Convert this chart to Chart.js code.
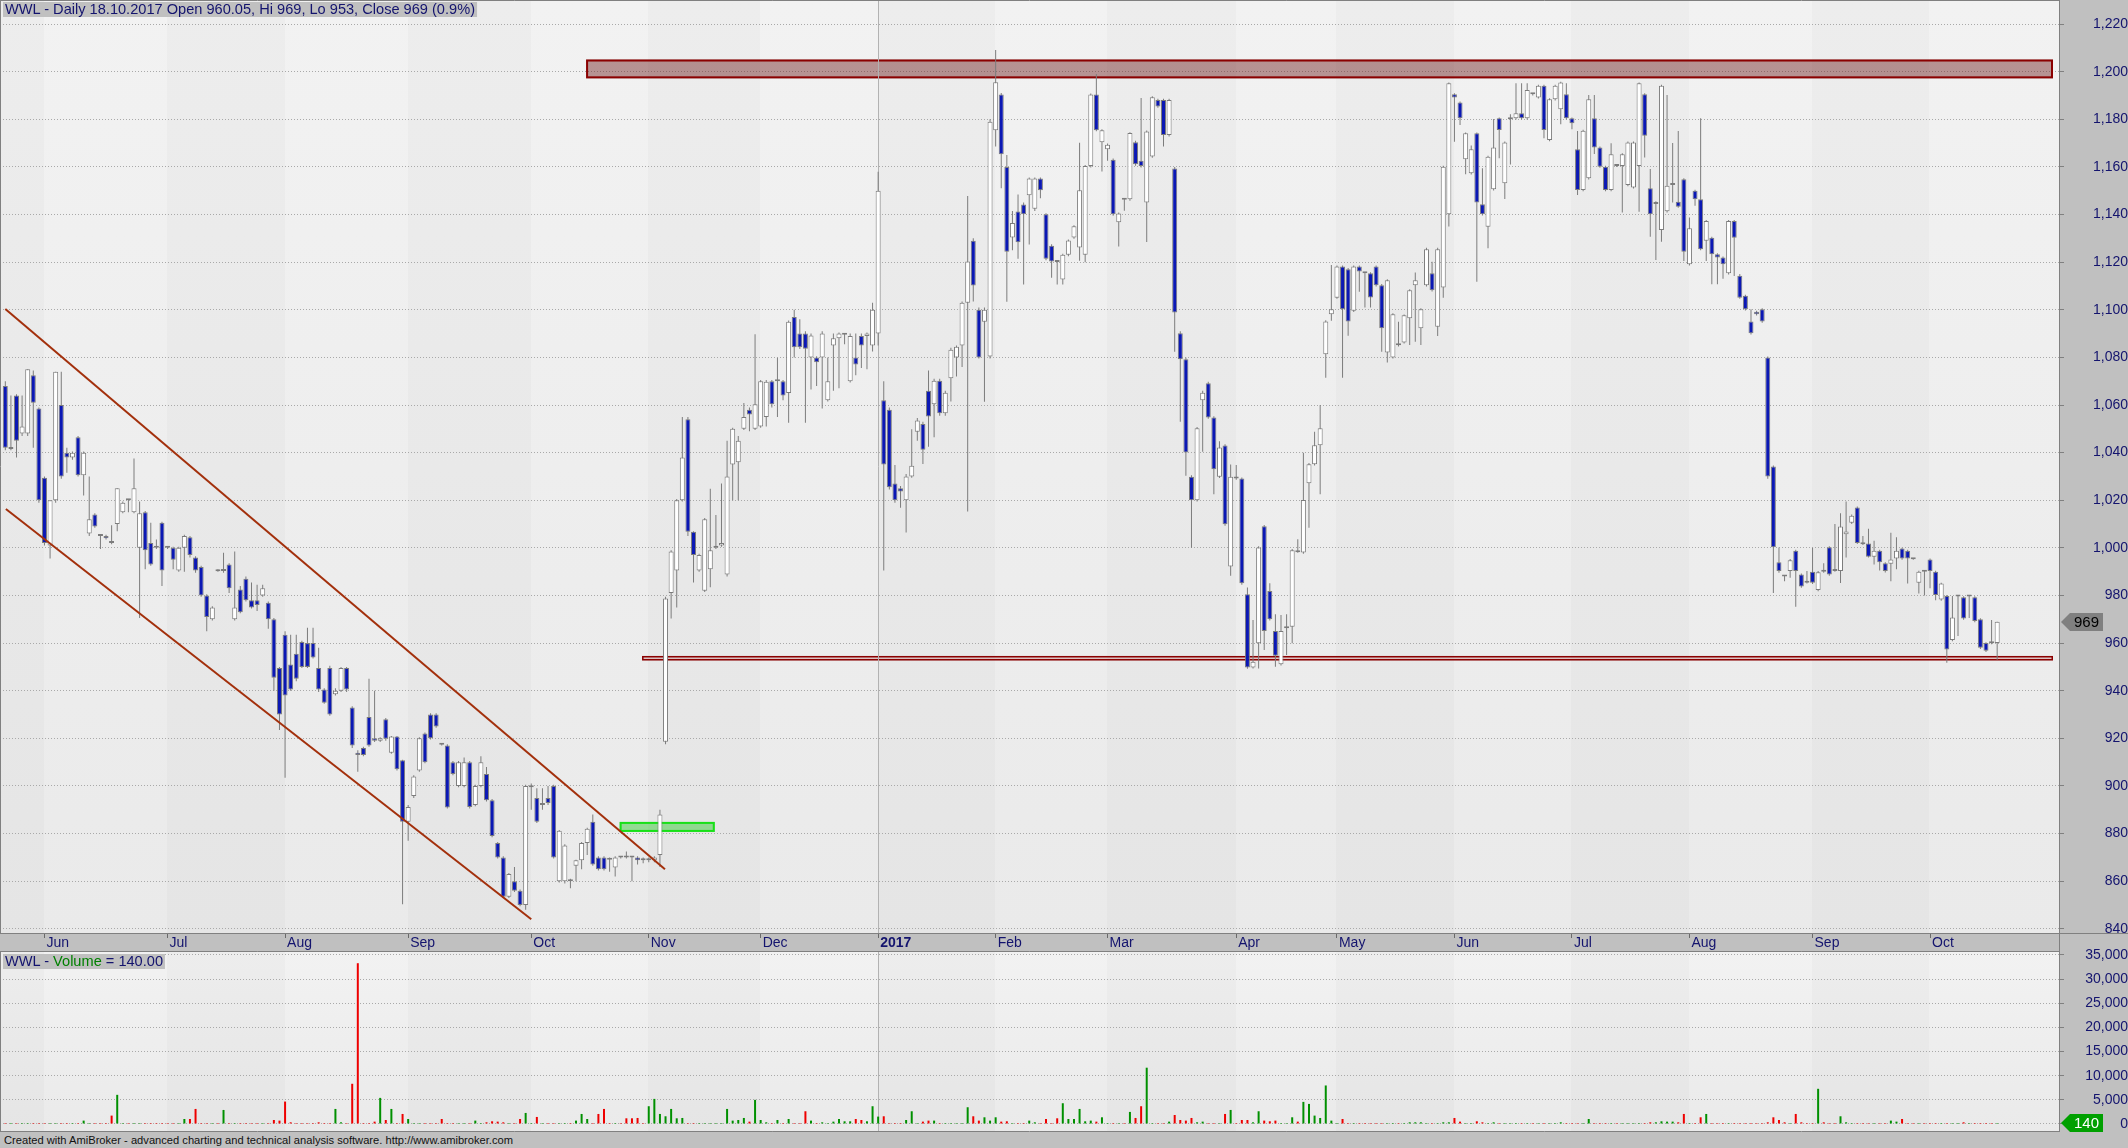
<!DOCTYPE html>
<html><head><meta charset="utf-8"><title>WWL Daily</title>
<script src="https://cdn.jsdelivr.net/npm/chart.js@4.4.1/dist/chart.umd.min.js"></script>
<style>
html,body{margin:0;padding:0;background:#c0c0c0;}
#wrap{position:relative;width:2128px;height:1148px;overflow:hidden;background:#c0c0c0;}
canvas{position:absolute;left:0;display:block;}
#priceCv{top:0;}
#volCv{top:938px;}
.txt{position:absolute;white-space:nowrap;font-family:'Liberation Sans',Arial,sans-serif;color:#14146e;transform-origin:0 0;}
#title{left:3px;top:2px;font-size:14.5px;line-height:15px;background:#c0c0c0;padding:0 2px;}
#vlegend{left:3px;top:954px;font-size:14.5px;line-height:15px;background:#c0c0c0;padding:0 2px;}
#footer{left:4px;top:1134px;font-size:11px;line-height:13px;color:#111;}
</style></head>
<body><div id="wrap">
<canvas id="priceCv" width="2128" height="952"></canvas>
<canvas id="volCv" width="2128" height="194"></canvas>
<div id="title" class="txt" data-w="474">WWL - Daily 18.10.2017 Open 960.05, Hi 969, Lo 953, Close 969 (0.9%)</div>
<div id="vlegend" class="txt" data-w="162">WWL - <span style="color:#008000">Volume</span> = 140.00</div>
<div id="footer" class="txt" data-w="509">Created with AmiBroker - advanced charting and technical analysis software. http://www.amibroker.com</div>
</div>
<script>
// ---------- DATA ----------
const open = [
1068,1041.5,1064,1048,1048,1072.5,1058.5,1029.5,1001,1020,
1060,1040,1038,1046.5,1030.5,1006,1014,1005.2,1005,1002.2,
1010,1015,1020.2,1015,1000,1015,1002,1000.2,1010.5,1000.2,
1000,990.5,1000,1004.5,996,992,980,970,990.5,990.3,
993,970,982.5,987,978,978,980,977,970,949.5,
963.5,951,955.5,960.5,960,960,949.5,940.5,949.5,938.5,
940,949.5,933,914,916,929,920,919,928,914,
920.8,910.8,885,895.8,906.5,922,930,930,917.8,917,
910,900,900,910,892,900,905,894,876,870,
853.5,860,856,850,899.5,895,892,895,900,860,
860,860.8,866.5,868.8,876,885,870,870,869.5,865.8,
870.2,870.2,870.2,870,869,868.8,868.8,871,918.6,981,
990.5,1020,1054,1006.8,990.5,982,991,1000,1001,988.8,
1035,1036,1050,1058,1050,1051,1055,1070,1070,1070,
1065,1097,1090,1090,1080,1080,1080,1062,1085,1088,
1089.5,1070,1080,1089,1089,1085,1090,1062,1058,1027,
1025,1020,1030,1048.8,1052,1066,1060.3,1070.2,1056.5,1071.2,
1080,1085,1103,1129,1100,1095,1080.4,1175.4,1190.4,1160,
1130.4,1141.3,1144.2,1148.1,1142.4,1155.1,1140.1,1126.9,1120.6,1112.7,
1123.1,1130.4,1126.2,1123.1,1160.4,1190.4,1170.4,1167.4,1163,1136.8,
1146.4,1146.4,1170.4,1162.6,1145,1164.4,1188.1,1188.1,1173.4,1159.3,
1090.1,1079.2,1029.9,1020,1062,1069.1,1054.8,1029.9,1043,992.2,
1029.9,1029.1,980.5,949.8,959.9,1009.1,981.9,965.1,951.1,966.2,
966.9,998.4,998.1,1027.1,1035.1,1043.1,1081.3,1098.1,1105.1,1118.2,
1117,1099.6,1118.2,1115.5,1115.3,1118.2,1110.3,1082.1,1080,1085.3,
1086.3,1096.4,1110.3,1092.2,1110.3,1115.3,1092.9,1109.4,1140.1,1190.5,
1187.1,1163.2,1157.3,1174.1,1144.3,1134.9,1150.6,1180.4,1153.1,1180,
1180.4,1182.5,1180.4,1190.7,1189.2,1194.1,1171.3,1188.4,1184.2,1190.5,
1180.4,1167.4,1150.3,1155.2,1180.4,1168.2,1160.1,1150.3,1160.6,1160.4,
1152.4,1151.4,1160.4,1190.5,1151,1144.4,1133.5,1141.4,1152.4,1145.4,
1154.8,1119.1,1150,1146.4,1129,1130.3,1123.3,1122,1115.3,1137.3,
1114.3,1105.9,1095.1,1099.2,1100.2,1080,1034.2,994,988.2,990.3,
998.8,988.8,985.5,990,982.3,990.2,1000.3,990.5,990.3,1005.7,
1010.5,1017,1001.7,1001.8,996.3,998.8,993.5,993.3,995.5,999.7,
998.8,995.4,985.3,990.2,995.1,990,978.3,979.8,961.3,979.6,
979.3,979.6,979.3,970,960,960.2,960.05];
const high = [
1070,1064,1064.5,1064,1075,1074.5,1059,1030,1020,1074,
1074,1042,1040.5,1047,1040.5,1030,1014.5,1005.5,1005.5,1009.5,
1025,1019.5,1020.5,1037.5,1019.5,1015.5,1010.5,1003.5,1011,1000.5,
1000.5,1000.5,1005.5,1005,996.5,992.5,980.5,975.5,991,998,
993.5,998.5,984,988,985.5,984.5,984.5,977.5,970.5,950,
965,963.5,963.5,961,966.5,966.5,958,941,950.5,941,
950,950,933.5,915,916.5,945,940,920.5,928.5,921,
921,911,892,904.5,920.5,922.5,930.5,930.5,918,917.5,
910.5,910.5,912,910.5,900.5,912.5,908,894.5,876.5,870.5,
863.5,866,856.5,900.5,901,899,899,900,900.5,881.5,
875.5,861,869,876.5,882.5,888,870.5,870.5,870,870.5,
870.5,872.5,870.5,870.5,870,870,870.5,890,979.5,999,
1020.5,1055,1055,1007,997.5,1012.5,1024.8,1013.8,1027,1045,
1050.5,1047,1060.8,1059,1089.7,1070.5,1070.5,1070.5,1079.8,1070.5,
1095.5,1100,1096,1091,1090,1080.5,1091,1080,1090,1090.5,
1090,1090,1090,1090,1090.5,1103,1158,1070,1059,1034.8,
1026,1031,1049.8,1054.5,1053,1074.5,1071,1071,1066,1084,
1085,1103.5,1147.8,1130,1101,1101,1180,1209.1,1191,1165,
1141.5,1148.4,1145,1155.5,1155.5,1155.5,1140.5,1127.5,1120.8,1123.5,
1129.5,1135.5,1170.1,1160.8,1190.8,1199,1175.8,1169.8,1163.5,1140.8,
1146.8,1174.6,1171,1188.9,1175.3,1189.7,1188.6,1188.6,1188.6,1160,
1091,1080,1030.5,1050.8,1066,1069.8,1055.3,1044.8,1043.5,1035,
1034.8,1029.6,983.4,969.7,1000.7,1009.6,985.1,972.1,971.8,972.1,
999.5,1003.6,1040,1035.6,1048.8,1060,1095.6,1118.8,1118.6,1118.6,
1117.5,1118.6,1118.6,1115.8,1115.8,1118.6,1110.8,1112.8,1098.5,1095,
1098,1108.6,1115.7,1100.6,1126,1120.2,1126,1160.5,1195.5,1190.9,
1187.5,1174.5,1169,1174.5,1159.4,1164.7,1180.1,1180.8,1170.7,1182.1,
1195.1,1195.1,1195.1,1191,1194.5,1194.5,1188.8,1194.5,1195.8,1195.1,
1180.8,1175.1,1175.6,1190.2,1190.2,1168.6,1160.5,1169.9,1161,1165.7,
1170.7,1170.7,1195.5,1190.9,1159.1,1145.6,1194.5,1190.2,1170,1175.1,
1155.2,1138.8,1150.4,1180.4,1137.7,1130.7,1123.7,1122.4,1137.7,1137.7,
1115,1106.3,1100.2,1099.6,1100.6,1080.4,1034.6,1000.2,988.6,995.3,
999.2,989.2,990.3,1000,990.3,993.5,1000.7,1010,1014.5,1019.5,
1014,1017.4,1005,1008,1003,999.2,994,1006.3,1004.5,1000.1,
999.2,995.6,990.4,990.4,995.5,990.4,985.4,980.2,979.8,980.2,
979.7,980.2,979.7,970.4,960.4,969.7,969];
const low = [
1041,1041,1038,1047,1047,1042,1019,1001,995.5,1019,
1029,1031.5,1037,1030,1022,1005,1008.5,999.5,1003.5,1001.5,
1007,1014.5,1015,1014.5,970.5,991,992.5,999.5,984,999.5,
991,990,990,996,989.5,979.5,965,969.5,990,989.5,
981,969.5,972.5,977.5,974.5,973.5,979.5,966,940,923.5,
903.5,940,944,949.5,949.5,953.5,939.5,934.5,929.5,938,
939.5,939.5,916,906,912.5,916.5,918.5,918.5,919,913.5,
906.5,850.3,877,895,906,909.5,919.5,924.5,917,890.5,
904.5,899.5,899.5,890.5,891.5,899.5,893.5,878.5,869.5,853,
853,855.5,849.5,848,890,884.5,890,892,869.5,859.5,
859,857,860,865,871,866.5,864.5,864.5,864,862,
869.5,869.5,860,867,867.5,868,868,866,917.5,970.3,
975,1019.5,1005,985.5,990,981.5,983.5,999.5,1000.5,988,
1020,1020,1049.5,1049,1049.5,1050.5,1051,1059,1055,1062,
1052.5,1080,1083.5,1052.5,1066.5,1068,1058.5,1061.5,1066,1067,
1085.5,1069.5,1072.5,1075.5,1075,1082.5,1085,990.5,1024.5,1019,
1016.8,1006.5,1029.5,1045,1035.2,1042.5,1046.5,1055.5,1055.5,1061.5,
1072,1076,1015.3,1103.5,1079.5,1061.4,1079.5,1168.6,1151,1103.4,
1125,1121.4,1110.6,1127.4,1141.5,1146.8,1120.8,1113.4,1110.6,1110.6,
1122.5,1129.8,1120.6,1120,1159.8,1175,1158.1,1162.6,1139.5,1126.6,
1141.6,1145.8,1160.5,1159.8,1128.5,1163.8,1184.8,1168.6,1172.8,1082.4,
1053,1030.3,1000,1019.5,1040.4,1054.2,1022.5,1029.3,1009.3,988.3,
1028.6,984.5,949.2,949.3,949.3,957.1,969.5,950.1,950.6,955,
959.9,997.9,997.5,1008.5,1034.6,1022.5,1071.5,1095.4,1104.6,1071.5,
1089.1,1099.1,1107.6,1101,1101,1109.8,1082.4,1077.9,1079.5,1084.6,
1085.8,1085.2,1086.6,1085.2,1109.8,1107.7,1089,1105,1135,1170.6,
1177.6,1156.9,1156.8,1111.8,1139.6,1125.8,1150.1,1163.6,1146.5,1161,
1179.9,1179.9,1179.9,1190,1188.7,1172,1170.8,1187.9,1177.9,1179.9,
1175.8,1148.2,1149.8,1154.7,1165.4,1159.6,1149.8,1149.8,1160,1140.8,
1151.9,1150.9,1141.2,1164,1130.7,1120.9,1128.6,1140.8,1145,1142.8,
1120.5,1118.6,1143.7,1125,1120.5,1110.7,1110.7,1113,1114.8,1114.2,
1104.6,1099.7,1089.6,1097.6,1094.6,1029,981,989.5,986,987.5,
975.3,983.3,985,984.8,981.8,989.6,988.3,990,985.2,996,
1010,1001.6,1001.2,996,993,990.5,989.7,986,991,995,
985,995,980.8,980,983,978,977.8,951.7,960.8,963,
969.8,970.5,968.8,957.5,956.3,959.5,953];
const close = [
1042,1042,1045,1051,1075,1061,1020,1002,1020,1074,
1030,1038,1040,1030.5,1040,1012,1009,1005,1004,1002,
1025,1019,1020,1025,1014.5,999,993,1000,990.5,1000,
995,1000,1005,997,990.5,980,971,975,990.2,990.5,
983,975,973,978,975,976,983,970,945.5,930,
938,940.5,945,950,950,954,940.5,935,930,940,
949.5,940.5,917,913,913,917,919,920,919.8,920.8,
907,885,891.2,904,920,910,920,925,917.3,891,
905,910,910,891.2,900,910,894,879,870,853.5,
863,856,850,900,900,885,892.8,892.8,870,881.2,
875,860,868.8,876,882,867,865,865,869,870,
870,870,870,868.8,868.8,869.5,870,888,978.7,998.5,
1020,1038,1006.8,997,997,1012,999,1000.4,1002,1030,
1050,1045,1055,1056,1060.3,1070,1069.8,1060.3,1070.3,1064,
1095,1084.3,1084.3,1083.6,1089.2,1078,1090,1070,1088,1090,
1089.7,1089,1077,1085,1090,1100,1150,1035,1025.5,1020,
1023.7,1030,1034.5,1053.5,1041.2,1055.2,1070.2,1056.5,1065.2,1083.2,
1084.5,1103,1120.3,1110.2,1080,1100,1179,1195.6,1165.3,1124.4,
1136.4,1128.4,1140.1,1155.1,1155.1,1150.2,1121.4,1120.3,1120.1,1123.1,
1129.1,1135.1,1150.2,1160.4,1190.4,1175.4,1175.4,1169.3,1140.1,1140.4,
1146.2,1174.2,1161.1,1160.4,1174.9,1189.3,1185.4,1173.4,1188.1,1098.9,
1079.2,1040.1,1020,1050.2,1065.2,1054.8,1033,1042.2,1009.9,1029.9,
1029.1,985.1,949.8,952.2,1000.2,965.1,970,954.7,965.1,966.9,
999,998.2,1020.1,1035.1,1043.1,1050.2,1095.1,1100.2,1118.2,1100.2,
1095.1,1118.2,1116.1,1115.3,1105.2,1110.3,1092.2,1112.4,1098.1,1085.1,
1097.7,1108.2,1112.4,1100.2,1125.4,1108.2,1125.4,1160.1,1195.1,1189.2,
1180.4,1174.1,1167.4,1145.1,1140.1,1164.3,1168.2,1175.5,1170.3,1180.2,
1182.5,1180.4,1192.3,1190.5,1194.1,1175.5,1188.4,1194.1,1195.4,1180.4,
1178.3,1150.3,1175.2,1188.4,1168.2,1160.1,1150.3,1165.3,1160.4,1165.3,
1170.3,1170.3,1195.1,1173.1,1140.1,1145.2,1194.1,1152.1,1153.1,1143.3,
1124.4,1134.2,1146.4,1125.4,1137.3,1123.3,1122,1119.1,1137.3,1130.3,
1105.1,1100.2,1090.1,1098.1,1095.1,1030,1000.3,990.3,988,994.8,
990.3,983.8,985.3,985.3,989.8,990,988.8,990.3,1009,1006.9,
1013.5,1002,1001.5,996.3,998.8,994,990.3,995.1,998.8,995.5,
995.5,995.2,990,990,990.3,980.2,985,957.3,970.8,979.8,
970.3,979.8,969.3,958,956.8,959.95,969];
const volume = [
200,60,80,60,50,70,90,200,200,200,
60,50,60,40,700,50,60,50,200,1740,
6040,50,40,60,200,50,60,40,200,50,
200,200,1040,1040,3120,200,60,50,40,2910,
50,40,60,50,200,200,40,200,830,700,
4650,350,50,200,200,200,350,60,200,3120,
350,200,8330,33300,60,200,490,5410,830,3120,
200,2080,1040,50,200,200,40,50,1040,200,
40,50,60,40,700,50,350,560,490,350,
200,200,1040,2290,60,1460,50,200,200,200,
40,50,700,2080,1040,60,2080,3120,50,40,
200,1180,1180,1250,200,3680,5200,2080,1600,3120,
1180,1250,200,200,200,200,50,200,40,3120,
700,830,1250,490,5000,830,350,200,830,50,
1040,200,200,2640,700,50,350,40,490,1040,
560,560,1040,830,560,3680,1530,1600,200,200,
200,830,2640,200,490,700,700,50,40,200,
200,200,3470,1600,700,1390,700,1390,490,560,
200,200,200,700,350,200,1040,200,1180,4300,
1040,1040,3120,560,700,490,1390,200,200,200,
200,2500,1250,3680,11660,200,50,200,490,1870,
830,700,1250,350,490,200,200,200,2080,2910,
60,830,830,350,2640,700,560,700,50,200,
1390,490,4580,4160,1740,1250,7980,700,200,1040,
50,200,40,200,200,200,200,200,50,200,
200,350,350,350,200,200,200,350,350,1250,
490,40,50,560,350,50,350,40,50,200,
50,40,200,50,40,200,200,200,350,200,
200,200,40,1040,200,50,40,200,50,200,
40,50,200,200,350,350,560,490,490,350,
2080,200,200,1390,2080,50,200,40,200,200,
200,40,50,40,50,350,1390,830,350,200,
2080,350,200,200,7290,350,200,200,1600,350,
40,200,50,200,40,200,200,700,490,1040,
40,50,60,200,200,200,40,200,200,200,
350,40,200,200,200,200,140];

// bar index of first trading day of each month, and the axis labels
const monthStarts = [7,29,50,72,94,115,135,156,177,197,220,238,259,280,301,323,344];
const monthLabels = ['Jun','Jul','Aug','Sep','Oct','Nov','Dec','2017','Feb','Mar','Apr','May','Jun','Jul','Aug','Sep','Oct'];
const priceTicks = [840,860,880,900,920,940,960,980,1000,1020,1040,1060,1080,1100,1120,1140,1160,1180,1200,1220];
const volumeTicks = [0,5000,10000,15000,20000,25000,30000,35000];

// drawn studies (bar index, price)
const resistanceZone = {from: 103.8, to: 366, bottom: 1197.2, top: 1205.1};
const supportZone = {from: 113.8, to: 366, bottom: 952.7, top: 954.6};
const breakoutBox = {from: 109.8, to: 126.8, bottom: 880.7, top: 884.9};
const channelUpper = [[0, 1100.3], [117.9, 865.0]];
const channelLower = [[0.1, 1016.3], [94.0, 844.0]];

// ---------- STYLE / LAYOUT ----------
const FONT = "'Liberation Sans', Arial, sans-serif";
const NAVY = '#14146e';
const BLUE = '#0b18b4';
const XMIN = -0.95, XMAX = 367.05;
const N = close.length;
const idx = close.map((_, i) => i);

function paintPanel(chart, fromTop) {
  const {ctx, chartArea: a} = chart; const xs = chart.scales.x;
  const y0 = fromTop ? 0 : a.top;
  ctx.save();
  ctx.fillStyle = '#c0c0c0'; ctx.fillRect(0, y0, chart.width, chart.height - y0);
  const g = ctx.createLinearGradient(0, a.top, 0, a.bottom);
  g.addColorStop(0, '#f2f2f2'); g.addColorStop(1, '#eaeaea');
  ctx.fillStyle = g; ctx.fillRect(a.left, a.top, a.width, a.height);
  const edges = [xs.min].concat(monthStarts).concat([xs.max]);
  ctx.fillStyle = 'rgba(0,0,0,0.02)';
  for (let k = 0; k < edges.length - 1; k += 2) {
    const x0 = Math.round(xs.getPixelForValue(edges[k] - 0.1));
    const x1 = Math.round(xs.getPixelForValue(edges[k + 1] - 0.1));
    ctx.fillRect(Math.max(x0, a.left), a.top, Math.min(x1, a.right) - Math.max(x0, a.left), a.height);
  }
  ctx.restore();
}
function yearLine(chart) {
  const {ctx, chartArea: a} = chart; const xs = chart.scales.x;
  const px = Math.floor(xs.getPixelForValue(monthStarts[monthLabels.indexOf('2017')])) + 0.5;
  ctx.save(); ctx.strokeStyle = '#b2b2b2'; ctx.lineWidth = 1;
  ctx.beginPath(); ctx.moveTo(px, a.top); ctx.lineTo(px, a.bottom); ctx.stroke(); ctx.restore();
}
function zone(chart, z, fill, stroke, lw) {
  const {ctx, chartArea: a} = chart; const xs = chart.scales.x, ys = chart.scales.y;
  const x0 = xs.getPixelForValue(z.from), x1 = Math.min(xs.getPixelForValue(z.to), a.right - 6);
  const y0 = ys.getPixelForValue(z.top), y1 = ys.getPixelForValue(z.bottom);
  ctx.save(); ctx.beginPath(); ctx.rect(a.left, a.top, a.width, a.height); ctx.clip();
  ctx.fillStyle = fill; ctx.fillRect(x0, y0, x1 - x0, y1 - y0);
  ctx.strokeStyle = stroke; ctx.lineWidth = lw;
  ctx.strokeRect(x0 + lw / 2, y0 + lw / 2, x1 - x0 - lw, y1 - y0 - lw);
  ctx.restore();
}
function trendLine(chart, pts) {
  const {ctx, chartArea: a} = chart; const xs = chart.scales.x, ys = chart.scales.y;
  ctx.save(); ctx.beginPath(); ctx.rect(a.left, a.top, a.width, a.height); ctx.clip();
  ctx.strokeStyle = '#a3300c'; ctx.lineWidth = 2;
  ctx.beginPath();
  ctx.moveTo(xs.getPixelForValue(pts[0][0]), ys.getPixelForValue(pts[0][1]));
  ctx.lineTo(xs.getPixelForValue(pts[1][0]), ys.getPixelForValue(pts[1][1]));
  ctx.stroke(); ctx.restore();
}
function tag(ctx, xl, yc, fill, text, color) {
  const h = 18, tip = 9, w = 42;
  ctx.save(); ctx.fillStyle = fill;
  ctx.beginPath(); ctx.moveTo(xl, yc); ctx.lineTo(xl + tip, yc - h / 2); ctx.lineTo(xl + w, yc - h / 2);
  ctx.lineTo(xl + w, yc + h / 2); ctx.lineTo(xl + tip, yc + h / 2); ctx.closePath(); ctx.fill();
  ctx.fillStyle = color; ctx.font = '15px ' + FONT; ctx.textAlign = 'center'; ctx.textBaseline = 'middle';
  ctx.fillText(text, xl + tip + (w - tip) / 2, yc + 1);
  ctx.restore();
}
function frameLines(chart, withBand) {
  const {ctx, chartArea: a} = chart;
  ctx.save(); ctx.strokeStyle = '#808080'; ctx.lineWidth = 1; ctx.beginPath();
  if (withBand) {
    ctx.moveTo(a.right + 0.5, 0); ctx.lineTo(a.right + 0.5, chart.height);
    ctx.moveTo(0.5, 0); ctx.lineTo(0.5, a.bottom);
    ctx.moveTo(0, 0.5); ctx.lineTo(a.right, 0.5);
    ctx.moveTo(0, a.bottom + 0.5); ctx.lineTo(chart.width, a.bottom + 0.5);
    ctx.moveTo(0, chart.height - 0.5); ctx.lineTo(a.right, chart.height - 0.5);
  } else {
    ctx.moveTo(a.right + 0.5, a.top); ctx.lineTo(a.right + 0.5, chart.height);
    ctx.moveTo(0.5, a.top); ctx.lineTo(0.5, a.bottom);
    ctx.moveTo(0, a.bottom - 0.5); ctx.lineTo(a.right, a.bottom - 0.5);
  }
  ctx.stroke(); ctx.restore();
}

const pricePlugin = {
  id: 'pricePanel',
  beforeDraw(chart) { paintPanel(chart, true); },
  beforeDatasetsDraw(chart) {
    zone(chart, resistanceZone, 'rgba(110,30,30,0.45)', '#8b0000', 2);
    zone(chart, supportZone, 'rgba(190,120,120,0.35)', '#8b0000', 1.5);
    zone(chart, breakoutBox, 'rgba(40,200,40,0.45)', '#18e018', 2);
    yearLine(chart);
  },
  afterDatasetsDraw(chart) { trendLine(chart, channelUpper); trendLine(chart, channelLower); },
  afterDraw(chart) {
    frameLines(chart, true);
    const ys = chart.scales.y;
    tag(chart.ctx, chart.chartArea.right + 2, Math.round(ys.getPixelForValue(close[N - 1])), '#808080', String(close[N - 1]), '#000');
  }
};
const volPlugin = {
  id: 'volPanel',
  beforeDraw(chart) { paintPanel(chart, false); },
  beforeDatasetsDraw(chart) { yearLine(chart); },
  afterDraw(chart) {
    frameLines(chart, false);
    const ys = chart.scales.y;
    tag(chart.ctx, chart.chartArea.right + 2, Math.round(ys.getPixelForValue(volume[N - 1])), '#00a000', String(volume[N - 1]), '#fff');
  }
};

const common = {
  responsive: false, animation: false, events: [], devicePixelRatio: 1,
  plugins: {legend: {display: false}, tooltip: {enabled: false}, title: {display: false}}
};

new Chart(document.getElementById('priceCv'), {
  type: 'bar',
  data: {datasets: [
    {label: 'body', data: idx.map(i => ({x: i, y: [open[i], close[i]]})), order: 0, grouped: false,
     backgroundColor: idx.map(i => close[i] < open[i] ? BLUE : '#ffffff'),
     borderColor: '#7c7c7c', borderWidth: 1, borderSkipped: false, barThickness: 5, minBarLength: 2, inflateAmount: 0},
    {label: 'wick', data: idx.map(i => ({x: i, y: [low[i], high[i]]})), order: 1, grouped: false,
     backgroundColor: '#7c7c7c', borderWidth: 0, barThickness: 1, inflateAmount: 0}
  ]},
  options: Object.assign({}, common, {
    layout: {padding: 0},
    scales: {
      x: {type: 'linear', position: 'bottom', min: XMIN, max: XMAX, bounds: 'data', offset: false,
        afterBuildTicks: s => { s.ticks = monthStarts.map(v => ({value: v})); },
        afterFit: s => { s.height = 19; s.paddingLeft = 0; s.paddingRight = 0; },
        ticks: {autoSkip: false, maxRotation: 0, minRotation: 0, align: 'start', labelOffset: 2, padding: -3,
          color: NAVY, font: c => ({family: FONT, size: 14, weight: c.index === monthLabels.indexOf('2017') ? 'bold' : 'normal'}),
          callback: (v, i) => monthLabels[i]},
        grid: {offset: false, drawOnChartArea: false, drawTicks: true, tickLength: 5, color: '#6a6a6a'},
        border: {display: false}},
      y: {type: 'linear', position: 'right', min: 838.25, max: 1230.1, bounds: 'data',
        afterBuildTicks: s => { s.ticks = priceTicks.map(v => ({value: v})); },
        afterFit: s => { s.width = 69; s.paddingTop = 0; s.paddingBottom = 0; },
        ticks: {autoSkip: false, crossAlign: 'far', padding: 24, color: NAVY, font: {family: FONT, size: 14},
          callback: v => Number(v).toLocaleString('en-US')},
        grid: {color: '#a9a9a9', lineWidth: 1, drawTicks: true, tickLength: 5, tickColor: '#808080'},
        border: {display: false, dash: [1, 2]}}
    }
  }),
  plugins: [pricePlugin]
});

new Chart(document.getElementById('volCv'), {
  type: 'bar',
  data: {datasets: [
    {label: 'Volume', data: idx.map(i => ({x: i, y: volume[i]})), grouped: false,
     backgroundColor: idx.map(i => close[i] < open[i] ? '#ee0000' : '#009000'),
     borderWidth: 0, barThickness: 2, minBarLength: 1, inflateAmount: 0}
  ]},
  options: Object.assign({}, common, {
    layout: {padding: {top: 14, left: 0, right: 0, bottom: 0}},
    scales: {
      x: {type: 'linear', display: false, min: XMIN, max: XMAX, bounds: 'data', offset: false, grid: {offset: false}},
      y: {type: 'linear', position: 'right', min: -1657, max: 35621, bounds: 'data',
        afterBuildTicks: s => { s.ticks = volumeTicks.map(v => ({value: v})); },
        afterFit: s => { s.width = 69; s.paddingTop = 0; s.paddingBottom = 0; },
        ticks: {autoSkip: false, crossAlign: 'far', padding: 16, color: NAVY, font: {family: FONT, size: 14},
          callback: v => Number(v).toLocaleString('en-US')},
        grid: {color: '#a9a9a9', lineWidth: 1, drawTicks: true, tickLength: 5, tickColor: '#808080'},
        border: {display: false, dash: [1, 2]}}
    }
  }),
  plugins: [volPlugin]
});

function fitTexts() {
  document.querySelectorAll('[data-w]').forEach(el => {
    el.style.transform = 'none';
    const w = el.getBoundingClientRect().width;
    el.style.transform = 'scaleX(' + (Number(el.dataset.w) / w) + ')';
  });
}
fitTexts();
if (document.fonts && document.fonts.ready) document.fonts.ready.then(fitTexts);
</script>
</body></html>
